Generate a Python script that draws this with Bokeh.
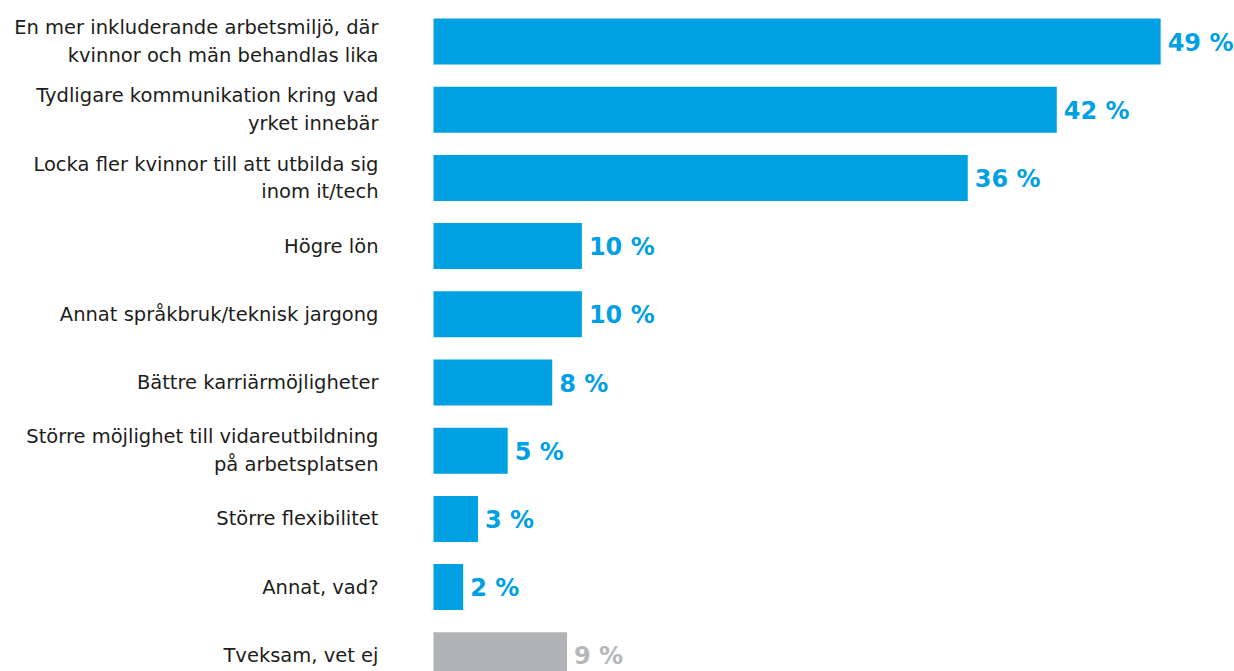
from bokeh.plotting import figure
from bokeh.models import ColumnDataSource, Range1d
from bokeh.core.properties import value
from bokeh.embed import file_html
from bokeh.resources import INLINE

categories = [
    "En mer inkluderande arbetsmiljö, där\nkvinnor och män behandlas lika",
    "Tydligare kommunikation kring vad\nyrket innebär",
    "Locka fler kvinnor till att utbilda sig\ninom it/tech",
    "Högre lön",
    "Annat språkbruk/teknisk jargong",
    "Bättre karriärmöjligheter",
    "Större möjlighet till vidareutbildning\npå arbetsplatsen",
    "Större flexibilitet",
    "Annat, vad?",
    "Tveksam, vet ej",
]
values = [49, 42, 36, 10, 10, 8, 5, 3, 2, 9]
value_labels = [f"{v} %" for v in values]
bar_colors = ["#00A0E3"] * 9 + ["#B1B3B6"]
text_colors = ["#00A0E3"] * 9 + ["#B5B7BA"]

W, H = 1234, 671
scale = 14.84  # px per percent
x0_px = 433
step = 68.2
c0 = 41

ypos = list(range(len(categories)))
src = ColumnDataSource(dict(y=ypos, v=values, cat=categories, lab=value_labels,
                            bc=bar_colors, tc=text_colors))

p = figure(width=W, height=H, output_backend="svg", toolbar_location=None,
           x_range=Range1d(-x0_px / scale, (W - x0_px) / scale),
           y_range=Range1d((H - c0) / step, -c0 / step),
           min_border=0, outline_line_color=None)
p.axis.visible = False
p.grid.visible = False
p.background_fill_color = "white"
p.border_fill_color = "white"

p.hbar(y="y", left=0, right="v", height=0.675, fill_color="bc", line_color=None, source=src)
p.text(x=0, y="y", text="cat", x_offset=-55, text_align="right", text_baseline="middle",
       text_font=value("DejaVu Sans"), text_font_size="19.5px", text_color="#1d1d1b",
       text_line_height=1.2, source=src)
p.text(x="v", y="y", text="lab", x_offset=7, y_offset=1, text_align="left", text_baseline="middle",
       text_font=value("DejaVu Sans"), text_font_style="bold", text_font_size="24px",
       text_color="tc", source=src)

open("out.html", "w").write(file_html(p, INLINE))
